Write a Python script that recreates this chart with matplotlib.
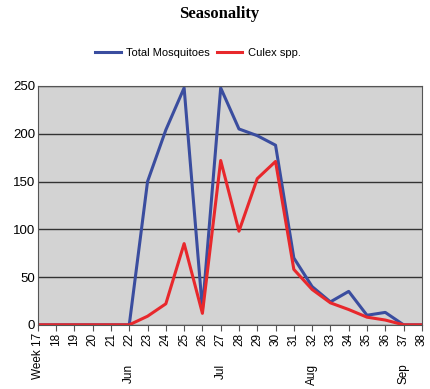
import matplotlib

matplotlib.use("Agg")
import matplotlib.pyplot as plt

# ---- data ----------------------------------------------------------
weeks = list(range(17, 39))
week_labels = ["Week 17"] + [str(w) for w in weeks[1:]]
total_mosquitoes = [0, 0, 0, 0, 0, 0, 150, 204, 248, 16, 248, 205, 198, 188,
                    70, 40, 24, 35, 10, 13, 0, 0]
culex = [0, 0, 0, 0, 0, 0, 9, 22, 85, 12, 172, 98, 153, 171,
         58, 37, 23, 16, 8, 5, 0, 0]
month_weeks = [22, 27, 32, 37]
month_labels = ["Jun", "Jul", "Aug", "Sep"]

fig = plt.figure(figsize=(4.3, 3.89), dpi=100)
ax = fig.add_axes([0.088, 0.165, 0.893, 0.614])
ax.set_facecolor("#d3d3d3")

ax.plot(weeks, total_mosquitoes, color="#3a4d9f", lw=2.2, label="Total Mosquitoes")
ax.plot(weeks, culex, color="#e8282c", lw=2.2, label="Culex spp.")

ax.set_xlim(17, 38)
ax.set_ylim(0, 250)
ax.set_yticks(range(0, 251, 50))
ax.yaxis.grid(True, color="#333333", lw=1)
ax.set_axisbelow(True)
ax.set_xticks(weeks, week_labels, rotation=90, fontsize=8.5,
              fontfamily="Liberation Sans")
ax.tick_params(axis="x", length=4, width=0.8, color="#555555", pad=2)
ax.tick_params(axis="y", length=0, labelsize=9.5, pad=2)
for lab in ax.get_yticklabels():
    lab.set_fontfamily("Liberation Sans")
for s in ax.spines.values():
    s.set_color("#555555")

# month names sit below the week numbers
sec = ax.secondary_xaxis("bottom")
sec.set_xticks(month_weeks, month_labels, rotation=90, fontsize=8.5,
               fontfamily="Liberation Sans", va="top")
sec.tick_params(length=0, pad=28)
sec.spines["bottom"].set_visible(False)

fig.suptitle("Seasonality", x=0.51, y=0.985, fontsize=12, fontweight="bold",
             fontfamily="Liberation Serif")
fig.legend(loc="center", bbox_to_anchor=(0.46, 0.865), ncol=2, frameon=False,
           prop={"family": "Liberation Sans", "size": 8},
           handlelength=2.3, columnspacing=0.6, handletextpad=0.5)

fig.savefig("out.png", dpi=100)
plt.close(fig)
